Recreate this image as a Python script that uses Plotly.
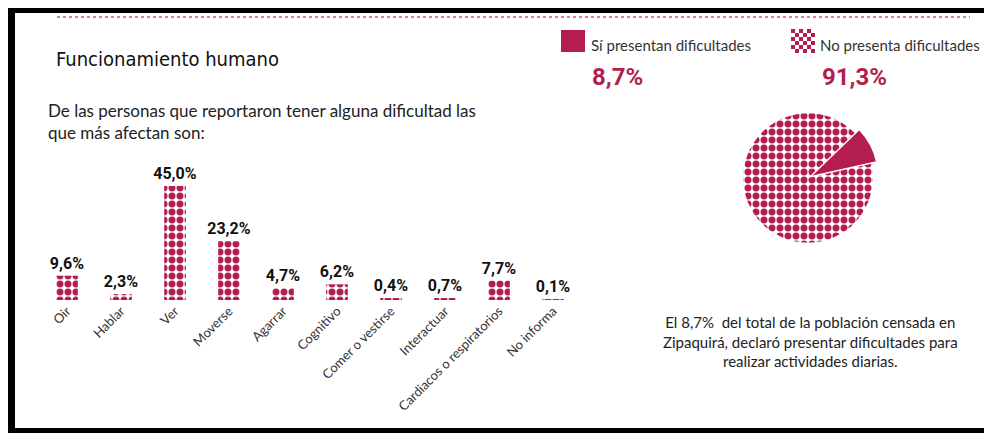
import base64
import plotly.graph_objects as go

W, H = 992, 433

categorias = ['Oir', 'Hablar', 'Ver', 'Moverse', 'Agarrar', 'Cognitivo',
              'Comer o vestirse', 'Interactuar', 'Cardiacos o respiratorios', 'No informa']
porcentajes = [9.6, 2.3, 45.0, 23.2, 4.7, 6.2, 0.4, 0.7, 7.7, 0.1]

pie_labels = ['Sí presentan dificultades', 'No presenta dificultades']
pie_values = [8.7, 91.3]

CRIMSON = '#B41E4E'
NARROW = 'DejaVu Sans Condensed, Roboto, sans-serif'
BODY = 'Lato, Open Sans, sans-serif'

PATRON = dict(shape='.', fgcolor=CRIMSON, bgcolor='white',
              size=8, solidity=0.6, fillmode='replace')

# la pagina deja 8px de margen en el body
OFF = 8


def px_x(x):
    return (x - OFF) / W


def px_y(y):
    return 1 - (y - OFF) / H


def pct(v):
    return f'{v:.1f}%'.replace('.', ',')


fig = go.Figure()

fig.add_trace(go.Bar(
    x=categorias,
    y=porcentajes,
    width=0.4,
    text=[pct(v) for v in porcentajes],
    textposition='outside',
    constraintext='none',
    cliponaxis=False,
    textfont=dict(family='Roboto, sans-serif', size=16, color='#111111', weight='bold'),
    marker=dict(color=CRIMSON, line=dict(width=0), pattern=PATRON),
    showlegend=False,
))

fig.add_trace(go.Pie(
    labels=pie_labels,
    values=pie_values,
    sort=False,
    direction='clockwise',
    rotation=46,
    pull=[0.08, 0],
    textinfo='none',
    marker=dict(
        colors=[CRIMSON, 'white'],
        line=dict(width=0),
        pattern=dict(shape=['', '.'], fgcolor=CRIMSON, bgcolor='white',
                     size=8, solidity=0.6, fillmode='replace'),
    ),
    domain=dict(x=[px_x(738), px_x(878)], y=[px_y(248), px_y(108)]),
    showlegend=False,
))

fig.update_layout(
    width=W, height=H,
    margin=dict(l=0, r=0, t=0, b=0, autoexpand=False),
    paper_bgcolor='white',
    plot_bgcolor='white',
    xaxis=dict(
        domain=[px_x(40), px_x(580)],
        tickangle=-45,
        tickfont=dict(family=BODY, size=13, color='#333333'),
        showline=False, showgrid=False, ticks='',
    ),
    yaxis=dict(
        domain=[px_y(300), px_y(160)],
        range=[0, 55.3],
        visible=False,
    ),
)

# marco y linea punteada superior
fig.add_shape(type='rect', xref='paper', yref='paper',
              x0=0, x1=1, y0=px_y(0), y1=px_y(13),
              fillcolor='black', line=dict(width=0))
fig.add_shape(type='rect', xref='paper', yref='paper',
              x0=px_x(8), x1=px_x(15), y0=px_y(0), y1=px_y(433),
              fillcolor='black', line=dict(width=0))
fig.add_shape(type='rect', xref='paper', yref='paper',
              x0=px_x(8), x1=1, y0=px_y(428), y1=px_y(441),
              fillcolor='black', line=dict(width=0))
fig.add_shape(type='line', xref='paper', yref='paper',
              x0=px_x(57), x1=px_x(970), y0=px_y(17), y1=px_y(17),
              line=dict(color='#E07A9A', width=2, dash='dot'))

# claves de la leyenda
fig.add_shape(type='rect', xref='paper', yref='paper',
              x0=px_x(561), x1=px_x(585), y0=px_y(30), y1=px_y(52),
              fillcolor=CRIMSON, line=dict(width=0))
celdas = ''.join(
    f'<rect x="{c * 4}" y="{r * 4}" width="4" height="4" fill="{CRIMSON}"/>'
    for r in range(6) for c in range(6) if (r + c) % 2 == 0
)
svg = f'<svg xmlns="http://www.w3.org/2000/svg" width="24" height="24">{celdas}</svg>'
fig.add_layout_image(
    source='data:image/svg+xml;base64,' + base64.b64encode(svg.encode()).decode(),
    xref='paper', yref='paper', x=px_x(791), y=px_y(29),
    sizex=24 / W, sizey=24 / H, xanchor='left', yanchor='top',
    sizing='stretch', layer='above',
)

fig.add_annotation(text=pie_labels[0], xref='paper', yref='paper',
                   x=px_x(589), y=px_y(45), xanchor='left', yanchor='middle',
                   showarrow=False, font=dict(family=BODY, size=15, color='#333333'))
fig.add_annotation(text=pie_labels[1], xref='paper', yref='paper',
                   x=px_x(818), y=px_y(45), xanchor='left', yanchor='middle',
                   showarrow=False, font=dict(family=BODY, size=15, color='#333333'))

fig.add_annotation(text='Funcionamiento humano', xref='paper', yref='paper',
                   x=px_x(54), y=px_y(59), xanchor='left', yanchor='middle',
                   showarrow=False,
                   font=dict(family=NARROW, size=20, color='#111111'))
fig.add_annotation(text='De las personas que reportaron tener alguna dificultad las<br>que más afectan son:',
                   xref='paper', yref='paper',
                   x=px_x(46), y=px_y(98), xanchor='left', yanchor='top',
                   align='left', showarrow=False,
                   font=dict(family=BODY, size=17, color='#222222'))

fig.add_annotation(text=pct(pie_values[0]), xref='paper', yref='paper',
                   x=px_x(590), y=px_y(77), xanchor='left', yanchor='middle',
                   showarrow=False,
                   font=dict(family='Roboto, sans-serif', size=24, color=CRIMSON, weight='bold'))
fig.add_annotation(text=pct(pie_values[1]), xref='paper', yref='paper',
                   x=px_x(820), y=px_y(77), xanchor='left', yanchor='middle',
                   showarrow=False,
                   font=dict(family='Roboto, sans-serif', size=24, color=CRIMSON, weight='bold'))

fig.add_annotation(text='El 8,7%  del total de la población censada en<br>Zipaquirá, declaró presentar dificultades para<br>realizar actividades diarias.',
                   xref='paper', yref='paper',
                   x=px_x(810), y=px_y(341), xanchor='center', yanchor='middle',
                   align='center', showarrow=False,
                   font=dict(family=BODY, size=15, color='#222222'))

fig.write_html('out.html')
